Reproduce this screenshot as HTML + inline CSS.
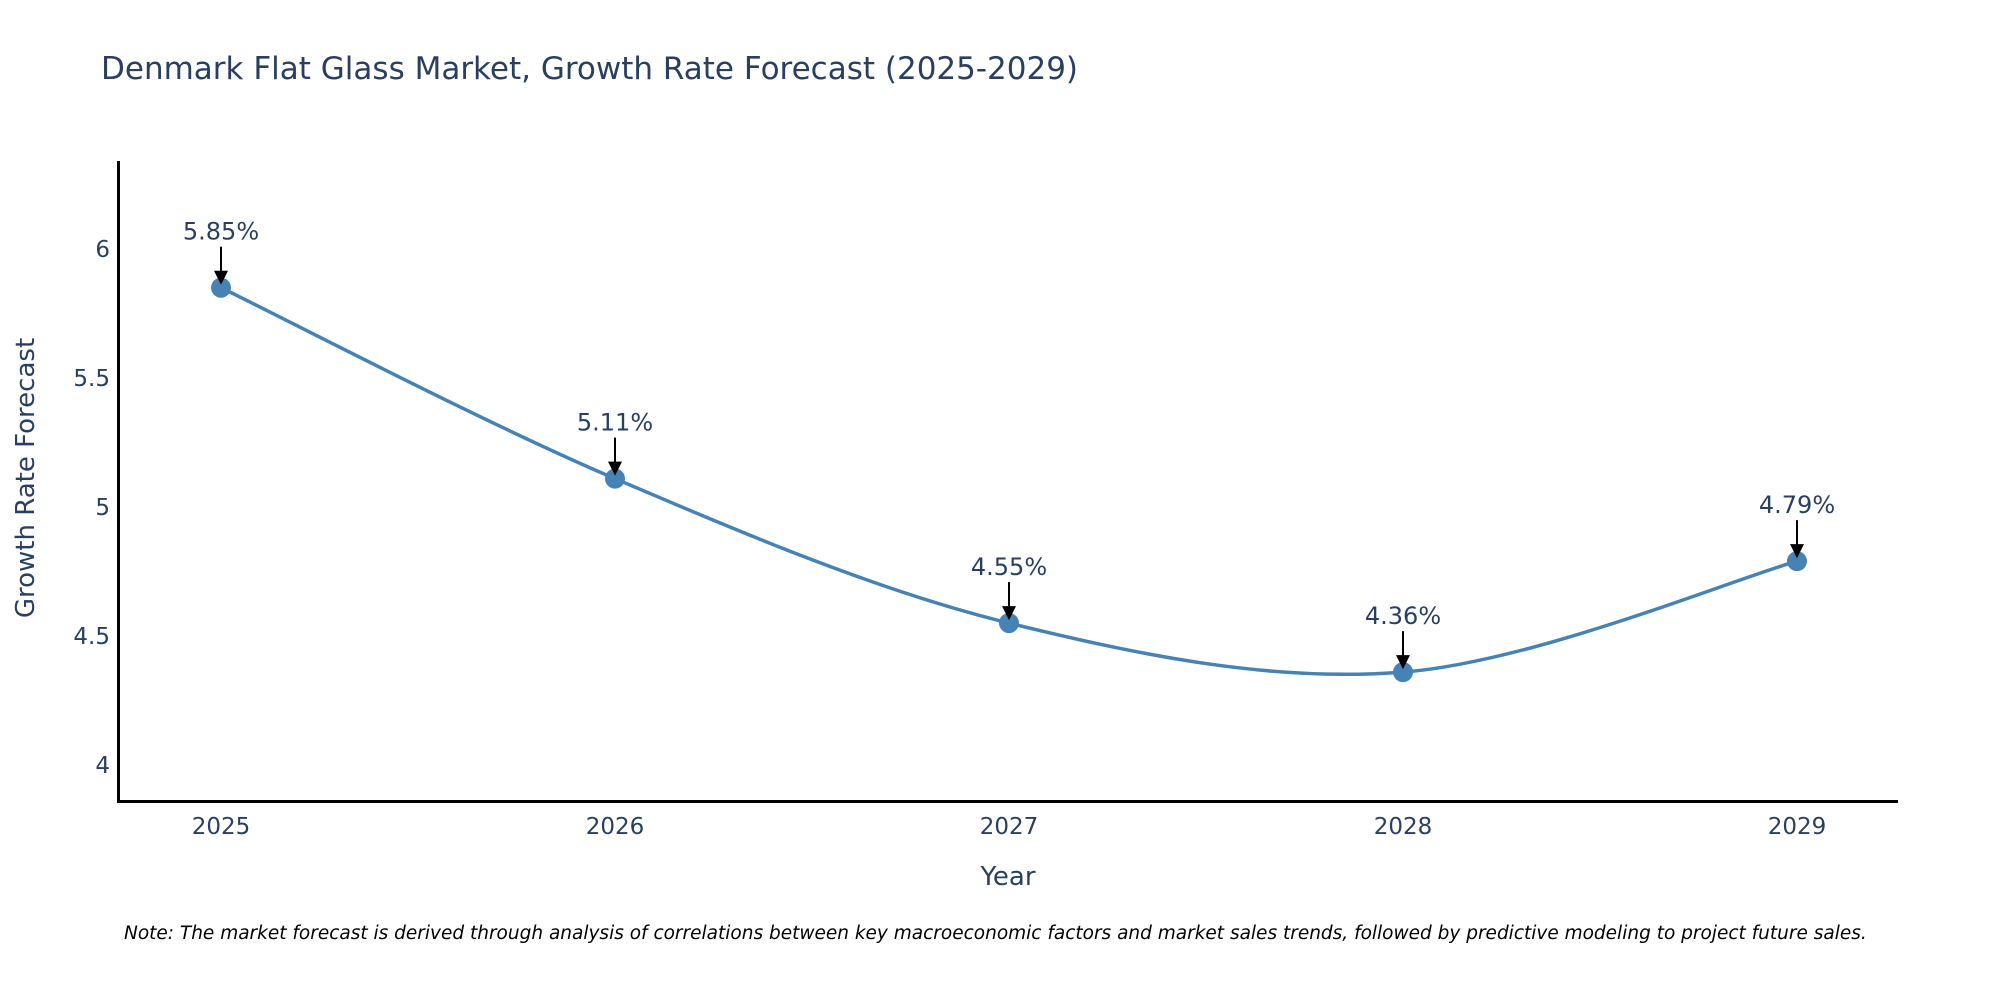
<!DOCTYPE html>
<html><head><meta charset="utf-8"><style>
html,body{margin:0;padding:0;background:#fff;}
svg{display:block;font-family:"DejaVu Sans","Liberation Sans",sans-serif;}
</style></head><body>
<svg id="chart" width="2000" height="1000" viewBox="0 0 2000 1000">
<text x="101" y="79" font-size="31" fill="#2a3f5f">Denmark Flat Glass Market, Growth Rate Forecast (2025-2029)</text>
<g id="yticks"></g>
<g id="xticks"></g>
<line x1="118.5" y1="161" x2="118.5" y2="802" stroke="#000" stroke-width="3"/>
<line x1="117" y1="801.5" x2="1898" y2="801.5" stroke="#000" stroke-width="3"/>
<text transform="translate(34,478) rotate(-90)" text-anchor="middle" font-size="26" fill="#2a3f5f">Growth Rate Forecast</text>
<text x="1008" y="885" text-anchor="middle" font-size="26" fill="#2a3f5f">Year</text>
<path id="line" fill="none" stroke="#4682b4" stroke-width="3.5"/>
<g id="points"></g>
<g id="annos"></g>
<text x="124" y="939" font-size="18.5" font-style="italic" fill="#000">Note: The market forecast is derived through analysis of correlations between key macroeconomic factors and market sales trends, followed by predictive modeling to project future sales.</text>
<defs><marker id="arr" markerWidth="14" markerHeight="14" refX="7" refY="7" orient="auto" markerUnits="userSpaceOnUse" viewBox="0 0 14 14"><path d="M0,0 L14,7 L0,14 Z" fill="#000"/></marker></defs>
</svg>
<script>
const years = [2025, 2026, 2027, 2028, 2029];
const rates = [5.85, 5.11, 4.55, 4.36, 4.79];
const yTickValues = [4, 4.5, 5, 5.5, 6];
const yTickLabels = ["4", "4.5", "5", "5.5", "6"];

const NS = "http://www.w3.org/2000/svg";
function xs(v){ return 221 + (v - 2025) * 394; }
function ys(v){ return 765 - (v - 4) * 258; }
function mk(tag, attrs, parent){
  const e = document.createElementNS(NS, tag);
  for (const k in attrs) e.setAttribute(k, attrs[k]);
  parent.appendChild(e);
  return e;
}
const yt = document.getElementById('yticks');
yTickValues.forEach((v,i)=>{
  const t = mk('text',{x:110,y:ys(v)+8,'text-anchor':'end','font-size':23,fill:'#2a3f5f'},yt);
  
  
  t.textContent = yTickLabels[i];
});
const xt = document.getElementById('xticks');
years.forEach(y=>{
  const t = mk('text',{x:xs(y),y:834,'text-anchor':'middle','font-size':23,fill:'#2a3f5f'},xt);
  
  
  t.textContent = String(y);
});
const P = years.map((y,i)=>[xs(y), ys(rates[i])]);
let d = `M${P[0][0]},${P[0][1]}`;
for (let i=0;i<P.length-1;i++){
  const p0 = P[i-1]||P[i], p1=P[i], p2=P[i+1], p3=P[i+2]||P[i+1];
  const c1=[p1[0]+(p2[0]-p0[0])/6, p1[1]+(p2[1]-p0[1])/6];
  const c2=[p2[0]-(p3[0]-p1[0])/6, p2[1]-(p3[1]-p1[1])/6];
  d += ` C${c1[0]},${c1[1]} ${c2[0]},${c2[1]} ${p2[0]},${p2[1]}`;
}
document.getElementById('line').setAttribute('d', d);
const pts = document.getElementById('points');
const an = document.getElementById('annos');
P.forEach((p,i)=>{
  const c = mk('circle',{cx:p[0],cy:p[1],r:10,fill:'#4682b4'},pts);
  
  
  const l = mk('line',{x1:p[0],y1:p[1]-41,x2:p[0],y2:p[1]-10,stroke:'#000','stroke-width':2,'marker-end':'url(#arr)'},an);
  
  
  const t = mk('text',{x:p[0],y:p[1]-48,'text-anchor':'middle','font-size':24,fill:'#2a3f5f'},an);
  
  
  t.textContent = rates[i].toFixed(2) + '%';
});
</script>
</body></html>
